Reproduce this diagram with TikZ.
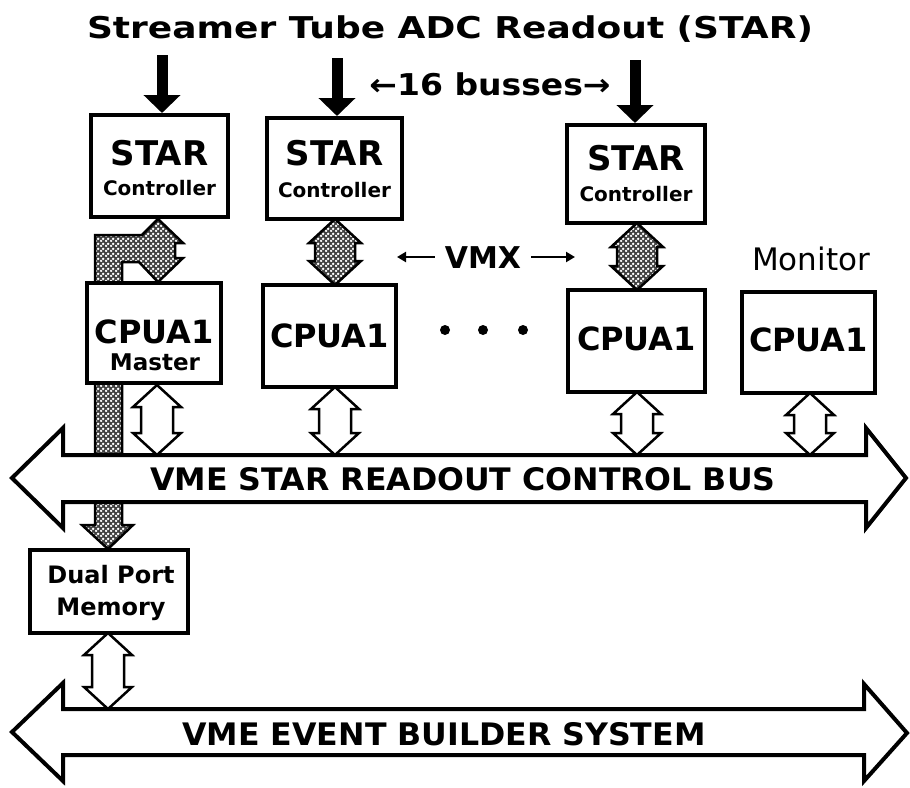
\documentclass[tikz,border=0pt]{standalone}
\usepackage{fontspec}
\setmainfont{DejaVu Sans}
\usetikzlibrary{arrows.meta,patterns.meta}

\tikzdeclarepattern{
  name=stipple,
  type=uncolored,
  bounding box={(0pt,0pt) and (5pt,5pt)},
  tile size={(5pt,5pt)},
  code={
    \fill (1.25pt,1.25pt) circle (1.6pt);
    \fill (3.75pt,3.75pt) circle (1.6pt);
  }
}

% #1 style, #2 x, #3 y top, #4 y bottom, #5 half head width, #6 half shaft width, #7 head length
\newcommand{\vdarrow}[7]{%
  \path[#1] ({#2},{#3}) -- ({#2+#5},{#3+#7}) -- ({#2+#6},{#3+#7}) -- ({#2+#6},{#4-#7})
    -- ({#2+#5},{#4-#7}) -- ({#2},{#4}) -- ({#2-#5},{#4-#7}) -- ({#2-#6},{#4-#7})
    -- ({#2-#6},{#3+#7}) -- ({#2-#5},{#3+#7}) -- cycle;}

\begin{document}
\begin{tikzpicture}[x=1pt,y=-1pt,
  box/.style={draw, line width=4pt, fill=white, inner sep=0pt},
  txt/.style={anchor=base, inner sep=0pt, font=\bfseries\fontsize{#1}{#1}\selectfont},
  rtxt/.style={anchor=base, inner sep=0pt, font=\fontsize{#1}{#1}\selectfont},
  whitearrow/.style={draw, line width=2.5pt, fill=white, line join=miter},
  shadearrow/.style={draw, line width=2.5pt, line join=miter,
     preaction={fill=black!75}, preaction={pattern=stipple, pattern color=white}},
  busshape/.style={draw, line width=4pt, fill=white, line join=miter},
  inarrow/.style={line width=11pt, -{Triangle[width=36pt,length=18pt]}},
  thinarrow/.style={line width=2.5pt, -{Triangle[width=10pt,length=9pt]}},
  dot/.style={circle, fill, inner sep=0pt, minimum size=10pt}]
\useasboundingbox (0,0) rectangle (910,787);

% title
\node[txt=30] (title) at (450,38) {\scalebox{1.2}[1]{Streamer Tube ADC Readout (STAR)}};
\node[txt=30] (busses) at (490,95) {\scalebox{1.1}[1]{←16 busses→}};

% shaded path from master VMX to dual port memory
\path[shadearrow] (158,219) -- (183,243) -- (175,243) -- (175,258) -- (183,258) -- (158,282)
  -- (139,262) -- (122,262) -- (122,525) -- (133,525) -- (108,549) -- (82,525) -- (95,525)
  -- (95,235) -- (142,235) -- cycle;

% STAR controllers
\node[box, minimum width=137pt, minimum height=102pt] (star1) at (159.5,166) {};
\node[box, minimum width=135pt, minimum height=101pt] (star2) at (334.5,168.5) {};
\node[box, minimum width=138pt, minimum height=98pt] (star3) at (636,174) {};
\node[txt=34] (star1a) at (159.5,165) {STAR};
\node[txt=20] (star1b) at (159.5,195) {Controller};
\node[txt=34] (star2a) at (334.5,165) {STAR};
\node[txt=20] (star2b) at (334.5,197) {Controller};
\node[txt=34] (star3a) at (636,170) {STAR};
\node[txt=20] (star3b) at (636,201) {Controller};

% input arrows
\coordinate (in1) at (162,55);
\coordinate (in2) at (337,58);
\coordinate (in3) at (635,60);
\draw[inarrow] (in1) -- (in1 |- star1.north);
\draw[inarrow] (in2) -- (in2 |- star2.north);
\draw[inarrow] (in3) -- (in3 |- star3.north);

% CPUs
\node[box, minimum width=134pt, minimum height=100pt] (cpu1) at (154,333) {};
\node[box, minimum width=133pt, minimum height=102pt] (cpu2) at (329.5,336) {};
\node[box, minimum width=137pt, minimum height=102pt] (cpu3) at (636.5,341) {};
\node[box, minimum width=133pt, minimum height=101pt] (cpu4) at (808.5,342.5) {};
\node[txt=32] (cpu1a) at (154,343) {CPUA1};
\node[txt=23] (cpu1b) at (155,370) {Master};
\node[txt=32] (cpu2a) at (329.5,347) {CPUA1};
\node[txt=32] (cpu3a) at (636.5,350) {CPUA1};
\node[txt=32] (cpu4a) at (808.5,351) {CPUA1};
\node[rtxt=31] (monitor) at (811,270) {Monitor};

% VMX
\vdarrow{shadearrow}{335}{219}{285}{26}{20}{24}
\vdarrow{shadearrow}{637}{223}{290}{26}{20}{24}
\node[txt=30, inner xsep=10pt] (vmx) at (483,268) {VMX};
\coordinate (vmxl) at (397,257);
\coordinate (vmxr) at (575,257);
\draw[thinarrow] (vmx.west |- vmxl) -- (vmxl);
\draw[thinarrow] (vmx.east |- vmxr) -- (vmxr);

% dots
\node[dot] (d1) at (445,330) {};
\node[dot] (d2) at (483,330) {};
\node[dot] (d3) at (523,330) {};

% bus 1
\path[busshape] (12,478) -- (63,428) -- (63,455) -- (866,455) -- (866,428) -- (906,478)
  -- (866,528) -- (866,502) -- (63,502) -- (63,528) -- cycle;
\node[txt=31] (bus1) at (463,490) {\scalebox{1.02}[1]{VME STAR READOUT CONTROL BUS}};

% white double arrows to bus 1
\vdarrow{whitearrow}{157}{385}{455}{24}{16}{22}
\vdarrow{whitearrow}{335}{387}{455}{24}{16}{22}
\vdarrow{whitearrow}{637}{392}{455}{24}{16}{22}
\vdarrow{whitearrow}{810}{393}{455}{24}{16}{22}

% dual port memory
\node[box, minimum width=158pt, minimum height=83pt] (dpm) at (109,591.5) {};
\node[txt=24] (dpma) at (111,583) {Dual Port};
\node[txt=24] (dpmb) at (111,615) {Memory};

% bus 2
\path[busshape] (12,732) -- (63,683) -- (63,709) -- (864,709) -- (864,684) -- (907,733)
  -- (864,781) -- (864,755) -- (63,755) -- (63,781) -- cycle;
\node[txt=31] (bus2) at (444,745) {\scalebox{1.02}[1]{VME EVENT BUILDER SYSTEM}};
\vdarrow{whitearrow}{108}{633}{709}{24}{16}{22}
\end{tikzpicture}
\end{document}
